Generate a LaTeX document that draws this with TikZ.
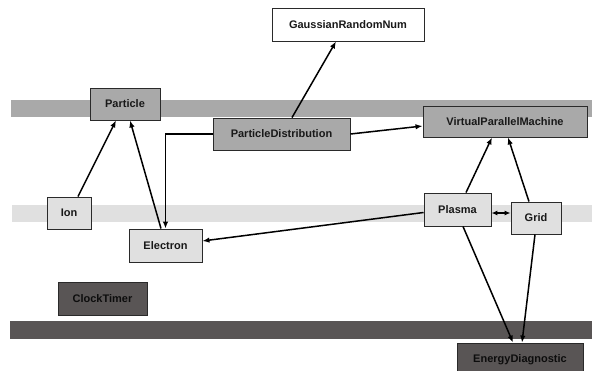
\documentclass[tikz,border=0pt]{standalone}
\usepackage{fontspec}
\setmainfont{Liberation Sans}
\usetikzlibrary{arrows.meta}
\definecolor{bandmid}{HTML}{A9A9A9}
\definecolor{bandlight}{HTML}{E0E0E0}
\definecolor{banddark}{HTML}{595555}
\definecolor{edgegray}{HTML}{2A2A2A}
\tikzset{
  cls/.style={draw=edgegray, line width=0.9pt, inner sep=0pt, anchor=center,
    font=\fontsize{11}{13}\selectfont\bfseries, text=black!90},
  clswhite/.style={cls, fill=white},
  clsmid/.style={cls, fill=bandmid},
  clslight/.style={cls, fill=bandlight},
  clsdark/.style={cls, fill=banddark, text=black!95},
  arr/.style={-{Latex[length=7pt,width=5.5pt]}, line width=1.5pt, black},
  dblarr/.style={{Latex[length=6pt,width=5pt]}-{Latex[length=6pt,width=5pt]}, line width=1.5pt, black}
}
\begin{document}
\begin{tikzpicture}[x=1pt,y=-1pt]
  % canvas
  \useasboundingbox (0,0) rectangle (592,370);
  \fill[white] (0,0) rectangle (592,370);

  % layer bands
  \fill[bandmid]   (11,100) rectangle (592,117);
  \fill[bandlight] (12,205) rectangle (592,222);
  \fill[banddark]  (10,321) rectangle (592,339);

  % classes
  \node[clswhite, minimum width=152pt, minimum height=33pt] (gauss) at (348,24.5) {GaussianRandomNum};
  \node[clsmid, minimum width=70pt, minimum height=32pt] (particle) at (125,104) {Particle};
  \node[clsmid, minimum width=137pt, minimum height=32pt] (pdist) at (281.5,134) {ParticleDistribution};
  \node[clsmid, minimum width=164pt, minimum height=31pt] (vpm) at (505,121.5) {VirtualParallelMachine};
  \node[clslight, minimum width=44pt, minimum height=32pt] (ion) at (69,213) {Ion};
  \node[clslight, minimum width=73pt, minimum height=33pt] (electron) at (165.5,245.5) {Electron};
  \node[clslight, minimum width=67pt, minimum height=33pt] (plasma) at (457.5,209.5) {Plasma};
  \node[clslight, minimum width=50pt, minimum height=32pt] (grid) at (536,218) {Grid};
  \node[clsdark, minimum width=89pt, minimum height=33pt] (clock) at (102.5,298.5) {ClockTimer};
  \node[clsdark, minimum width=126pt, minimum height=33pt] (energy) at (520,359.5) {EnergyDiagnostic};

  % relations
  \draw[arr] ([xshift=9pt]ion.north) -- ([xshift=-9pt]particle.south);
  \draw[arr] ([xshift=-4.5pt]electron.north) -- ([xshift=5pt]particle.south);
  \draw[arr] (pdist.west) -| (electron.north);
  \draw[arr] ([xshift=10.5pt]pdist.north) -- ([xshift=-12pt]gauss.south);
  \draw[arr] (pdist.east) -- ([yshift=-4.5pt]vpm.west);
  \draw[arr] ([xshift=8.5pt]plasma.north) -- ([xshift=-13pt]vpm.south);
  \draw[arr] ([xshift=-7pt]grid.north) -- ([xshift=3pt]vpm.south);
  \draw[dblarr] ([yshift=-3.5pt]plasma.east) -- ([yshift=5pt]grid.west);
  \draw[arr] ([yshift=-3pt]plasma.west) -- ([yshift=4.5pt]electron.east);
  \draw[arr] ([xshift=5.5pt]plasma.south) -- ([xshift=-7pt]energy.north);
  \draw[arr] ([xshift=-1pt]grid.south) -- ([xshift=2pt]energy.north);
\end{tikzpicture}
\end{document}
